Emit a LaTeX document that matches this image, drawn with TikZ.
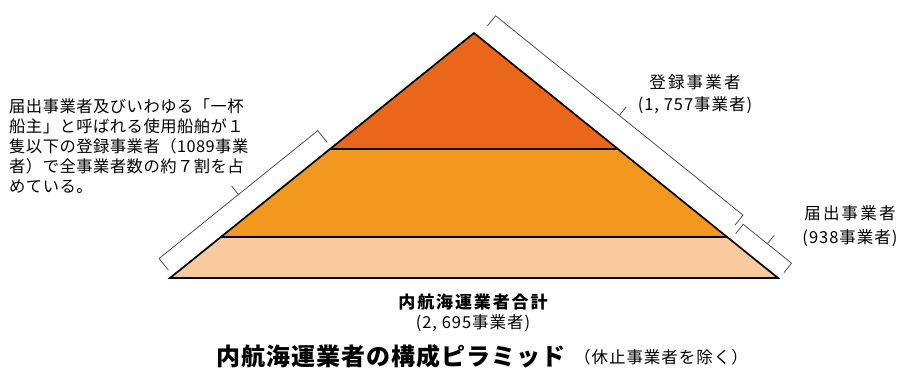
\documentclass[tikz,border=0pt]{standalone}
\usepackage{fontspec}
\newfontfamily\jp{Noto Sans CJK JP}
\usetikzlibrary{calc}
\definecolor{bandtop}{RGB}{233,102,27}
\definecolor{bandmid}{RGB}{242,152,30}
\definecolor{bandbot}{RGB}{248,202,158}
\definecolor{brk}{RGB}{80,80,80}
\begin{document}
\begin{tikzpicture}[x=1pt,y=-1pt,
  outline/.style={draw=black, line width=1.7pt, line join=miter},
  divider/.style={draw=black, line width=1.3pt},
  brace/.style={draw=brk, line width=0.8pt, line join=miter},
  notefont/.style={inner sep=0pt, align=left, font=\jp\fontsize{16.3}{20}\selectfont\addfontfeature{LetterSpace=3}},
  lblfont/.style={inner sep=0pt, font=\jp\fontsize{16.5}{18}\selectfont\addfontfeature{LetterSpace=13}},
  numfont/.style={inner sep=0pt, font=\jp\fontsize{16.5}{18}\selectfont\addfontfeature{LetterSpace=6}},
  totfont/.style={inner sep=0pt, font=\jp\bfseries\fontsize{17}{18}\selectfont\addfontfeature{LetterSpace=11}},
  titlefont/.style={inner sep=0pt, font=\jp\bfseries\fontsize{24}{26}\selectfont\addfontfeature{LetterSpace=4}},
  subfont/.style={inner sep=0pt, font=\jp\fontsize{16.5}{18}\selectfont\addfontfeature{LetterSpace=6}}]
\useasboundingbox (0,0) rectangle (901,369);
% pyramid
\coordinate (A) at (474,33);
\coordinate (L) at (170,278);
\coordinate (R) at (778,278);
\coordinate (M1L) at (330.1,149);
\coordinate (M1R) at (617.9,149);
\coordinate (M2L) at (220.9,237);
\coordinate (M2R) at (727.1,237);
\fill[bandtop] (A)--(M1R)--(M1L)--cycle;
\fill[bandmid] (M1L)--(M1R)--(M2R)--(M2L)--cycle;
\fill[bandbot] (M2L)--(M2R)--(R)--(L)--cycle;
\draw[divider] (M1L)--(M1R) (M2L)--(M2R);
\draw[outline] (A)--(R)--(L)--cycle;
% upper right bracket
\coordinate (ua) at (487.4,25.9);
\coordinate (ub) at (495.6,15.8);
\coordinate (uc) at (743.0,215.1);
\coordinate (ud) at (734.9,225.2);
\coordinate (um) at (619.3,115.5);
\coordinate (ut) at (626.2,106.9);
\draw[brace] (ua)--(ub)--(uc)--(ud) (um)--(ut);
% lower right bracket
\coordinate (la) at (735.7,233.7);
\coordinate (lb) at (743.2,224.3);
\coordinate (lc) at (791.5,263.2);
\coordinate (ld) at (784.0,272.6);
\coordinate (lm) at (767.4,243.7);
\coordinate (lt) at (774.3,235.2);
\draw[brace] (la)--(lb)--(lc)--(ld) (lm)--(lt);
% left bracket
\coordinate (ka) at (327.2,142.3);
\coordinate (kb) at (317.8,130.6);
\coordinate (kc) at (159.1,258.5);
\coordinate (kd) at (168.5,270.2);
\coordinate (km) at (238.5,194.6);
\coordinate (kt) at (231.6,186.0);
\draw[brace] (ka)--(kb)--(kc)--(kd) (km)--(kt);
% labels
\node[notefont, anchor=north west] (note) at (9,99) {届出事業者及びいわゆる「一杯\\船主」と呼ばれる使用船舶が１\\隻以下の登録事業者（1089事業\\者）で全事業者数の約７割を占\\めている。};
\node[lblfont] (reg) at (695,82) {登録事業者};
\node[numfont] (regn) at (695,105) {(1, 757事業者)};
\node[lblfont] (ntf) at (850,213) {届出事業者};
\node[numfont] (ntfn) at (850,238) {(938事業者)};
\node[totfont] (tot) at (473,302) {内航海運業者合計};
\node[numfont] (totn) at (473,323) {(2, 695事業者)};
\node[titlefont] (title) at (391,356) {内航海運業者の構成ピラミッド};
\node[subfont] (sub) at (661,357) {（休止事業者を除く）};
\end{tikzpicture}
\end{document}
